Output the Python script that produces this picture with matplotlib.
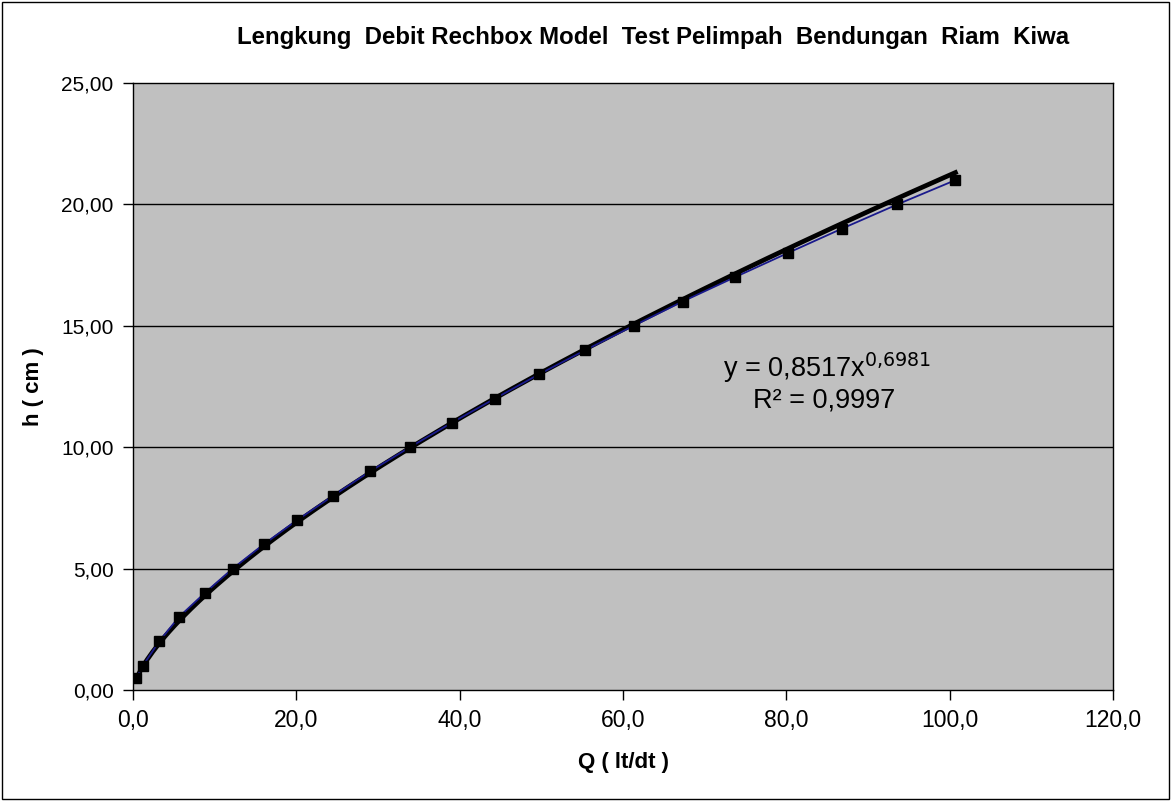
import matplotlib

matplotlib.use("Agg")

import matplotlib.pyplot as plt  # noqa: E402
import numpy as np  # noqa: E402
from matplotlib.patches import Rectangle  # noqa: E402

# data (Q in lt/dt, h in cm)
q_values = [0.4, 1.2, 3.2, 5.6, 8.8, 12.2, 16.0, 20.1, 24.5, 29.0, 33.9,
            39.0, 44.3, 49.7, 55.4, 61.3, 67.3, 73.7, 80.2, 86.8, 93.6, 100.7]
h_values = [0.5, 1, 2, 3, 4, 5, 6, 7, 8, 9, 10,
            11, 12, 13, 14, 15, 16, 17, 18, 19, 20, 21]

# power trendline coefficients as printed on the chart
coef_a = 0.8517
coef_b = 0.6981
r_squared = 0.9997

x_ticks = [0, 20, 40, 60, 80, 100, 120]
y_ticks = [0, 5, 10, 15, 20, 25]

plt.rcParams["font.family"] = ["Liberation Sans", "DejaVu Sans"]

fig = plt.figure(figsize=(11.71, 8.01), dpi=100, facecolor="white")
ax = fig.add_axes([0.1136, 0.1386, 0.8369, 0.7578])
ax.set_facecolor("#c0c0c0")

# grid lines (horizontal only)
for y in y_ticks[1:-1]:
    ax.axhline(y, color="black", lw=1.0, zorder=1)

# measured series
ax.plot(q_values, h_values, color="#1a1a8c", lw=1.3, zorder=3)
ax.plot(q_values, h_values, ls="none", marker="s", ms=7, color="black", zorder=4)

# trendline y = a x^b
qx = np.linspace(min(q_values), max(q_values), 300)
ax.plot(qx, coef_a * qx ** coef_b, color="black", lw=3.4, zorder=2)

ax.set_xlim(0, 120)
ax.set_ylim(0, 25)
ax.set_xticks(x_ticks)
ax.set_yticks(y_ticks)
ax.set_xticklabels([f"{v:.1f}".replace(".", ",") for v in x_ticks], fontsize=16.5)
ax.set_yticklabels([f"{v:.2f}".replace(".", ",") for v in y_ticks], fontsize=15)
ax.tick_params(direction="out", length=7, width=1, color="black", pad=7)
for spine in ax.spines.values():
    spine.set_color("black")
    spine.set_linewidth(1.0)

ax.set_xlabel("Q ( lt/dt )", fontsize=16, fontweight="bold", labelpad=14)
ax.set_ylabel("h ( cm )", fontsize=16, fontweight="bold", labelpad=12)

fig.text(0.5577, 0.9526, "Lengkung  Debit Rechbox Model  Test Pelimpah  Bendungan  Riam  Kiwa",
         ha="center", va="center", fontsize=17.3, fontweight="bold")

eq = "y = " + f"{coef_a}".replace(".", ",") + r"x$^{" + f"{coef_b}".replace(".", "{,}") + r"}$"
ax.text(72.2, 13.26, eq, fontsize=19.5, ha="left", va="center")
ax.text(75.9, 11.94, "R² = " + f"{r_squared}".replace(".", ","), fontsize=19.5,
        ha="left", va="center")

# outer chart border
fig.patches.append(Rectangle((0.002, 0.002), 0.996, 0.996, transform=fig.transFigure,
                             fill=False, edgecolor="black", lw=1.0))

fig.savefig("out.png", dpi=100, facecolor="white")
